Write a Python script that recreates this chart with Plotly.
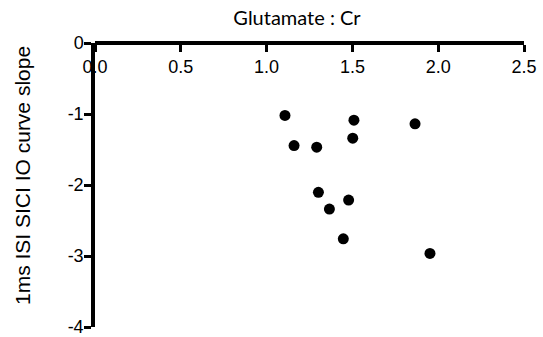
import plotly.graph_objects as go

# Data
glutamate_cr = [1.107, 1.160, 1.292, 1.509, 1.502, 1.865, 1.302, 1.366, 1.478, 1.447, 1.952]
sici_slope = [-1.02, -1.445, -1.468, -1.087, -1.341, -1.139, -2.103, -2.339, -2.212, -2.758, -2.964]

x_ticks = [0, 0.5, 1.0, 1.5, 2.0, 2.5]
x_ticklabels = ["0.0", "0.5", "1.0", "1.5", "2.0", "2.5"]
y_ticks = [0, -1, -2, -3, -4]
y_ticklabels = ["0", "-1", "-2", "-3", "-4"]
title_text = "Glutamate : Cr"
y_title_text = "1ms ISI SICI IO curve slope"

arial = "Arial, Liberation Sans, sans-serif"

W, H = 543, 337
L, R, T, B = 95, 19, 43, 10

fig = go.Figure(
    go.Scatter(
        x=glutamate_cr,
        y=sici_slope,
        mode="markers",
        marker=dict(color="black", size=11, line=dict(width=0)),
        cliponaxis=False,
    )
)

fig.update_layout(
    width=W,
    height=H,
    paper_bgcolor="white",
    plot_bgcolor="white",
    showlegend=False,
    margin=dict(l=L, r=R, t=T, b=B, autoexpand=False),
    title=dict(
        text=title_text,
        x=297 / W,
        xanchor="center",
        y=1 - 18 / H,
        yanchor="middle",
        font=dict(family="Lato, sans-serif", size=20, color="black"),
    ),
    xaxis=dict(
        side="bottom",
        anchor="free",
        position=1,
        range=[0, 2.5],
        tickmode="array",
        tickvals=x_ticks,
        ticktext=x_ticklabels,
        ticks="outside",
        ticklen=7,
        tickwidth=3,
        tickcolor="black",
        showline=True,
        linewidth=3.5,
        linecolor="black",
        showgrid=False,
        zeroline=False,
        automargin=False,
        ticklabeloverflow="allow",
        tickfont=dict(family=arial, size=18, color="black"),
    ),
    yaxis=dict(
        range=[-4, 0],
        tickmode="array",
        tickvals=y_ticks,
        ticktext=y_ticklabels,
        ticks="outside",
        ticklen=7,
        tickwidth=3,
        tickcolor="black",
        showline=True,
        linewidth=3.5,
        linecolor="black",
        showgrid=False,
        zeroline=False,
        automargin=False,
        ticklabeloverflow="allow",
        ticklabelstandoff=-3,
        tickfont=dict(family=arial, size=18, color="black"),
    ),
    annotations=[
        dict(
            text=y_title_text,
            xref="paper",
            yref="paper",
            x=(22 - L) / (W - L - R),
            y=(H - B - 176) / (H - T - B),
            xanchor="center",
            yanchor="middle",
            textangle=-90,
            showarrow=False,
            font=dict(family=arial, size=21, color="black"),
        )
    ],
)

fig.write_html(
    "out.html",
    config={"displayModeBar": False},
    post_script="document.body.style.margin='0';",
)
